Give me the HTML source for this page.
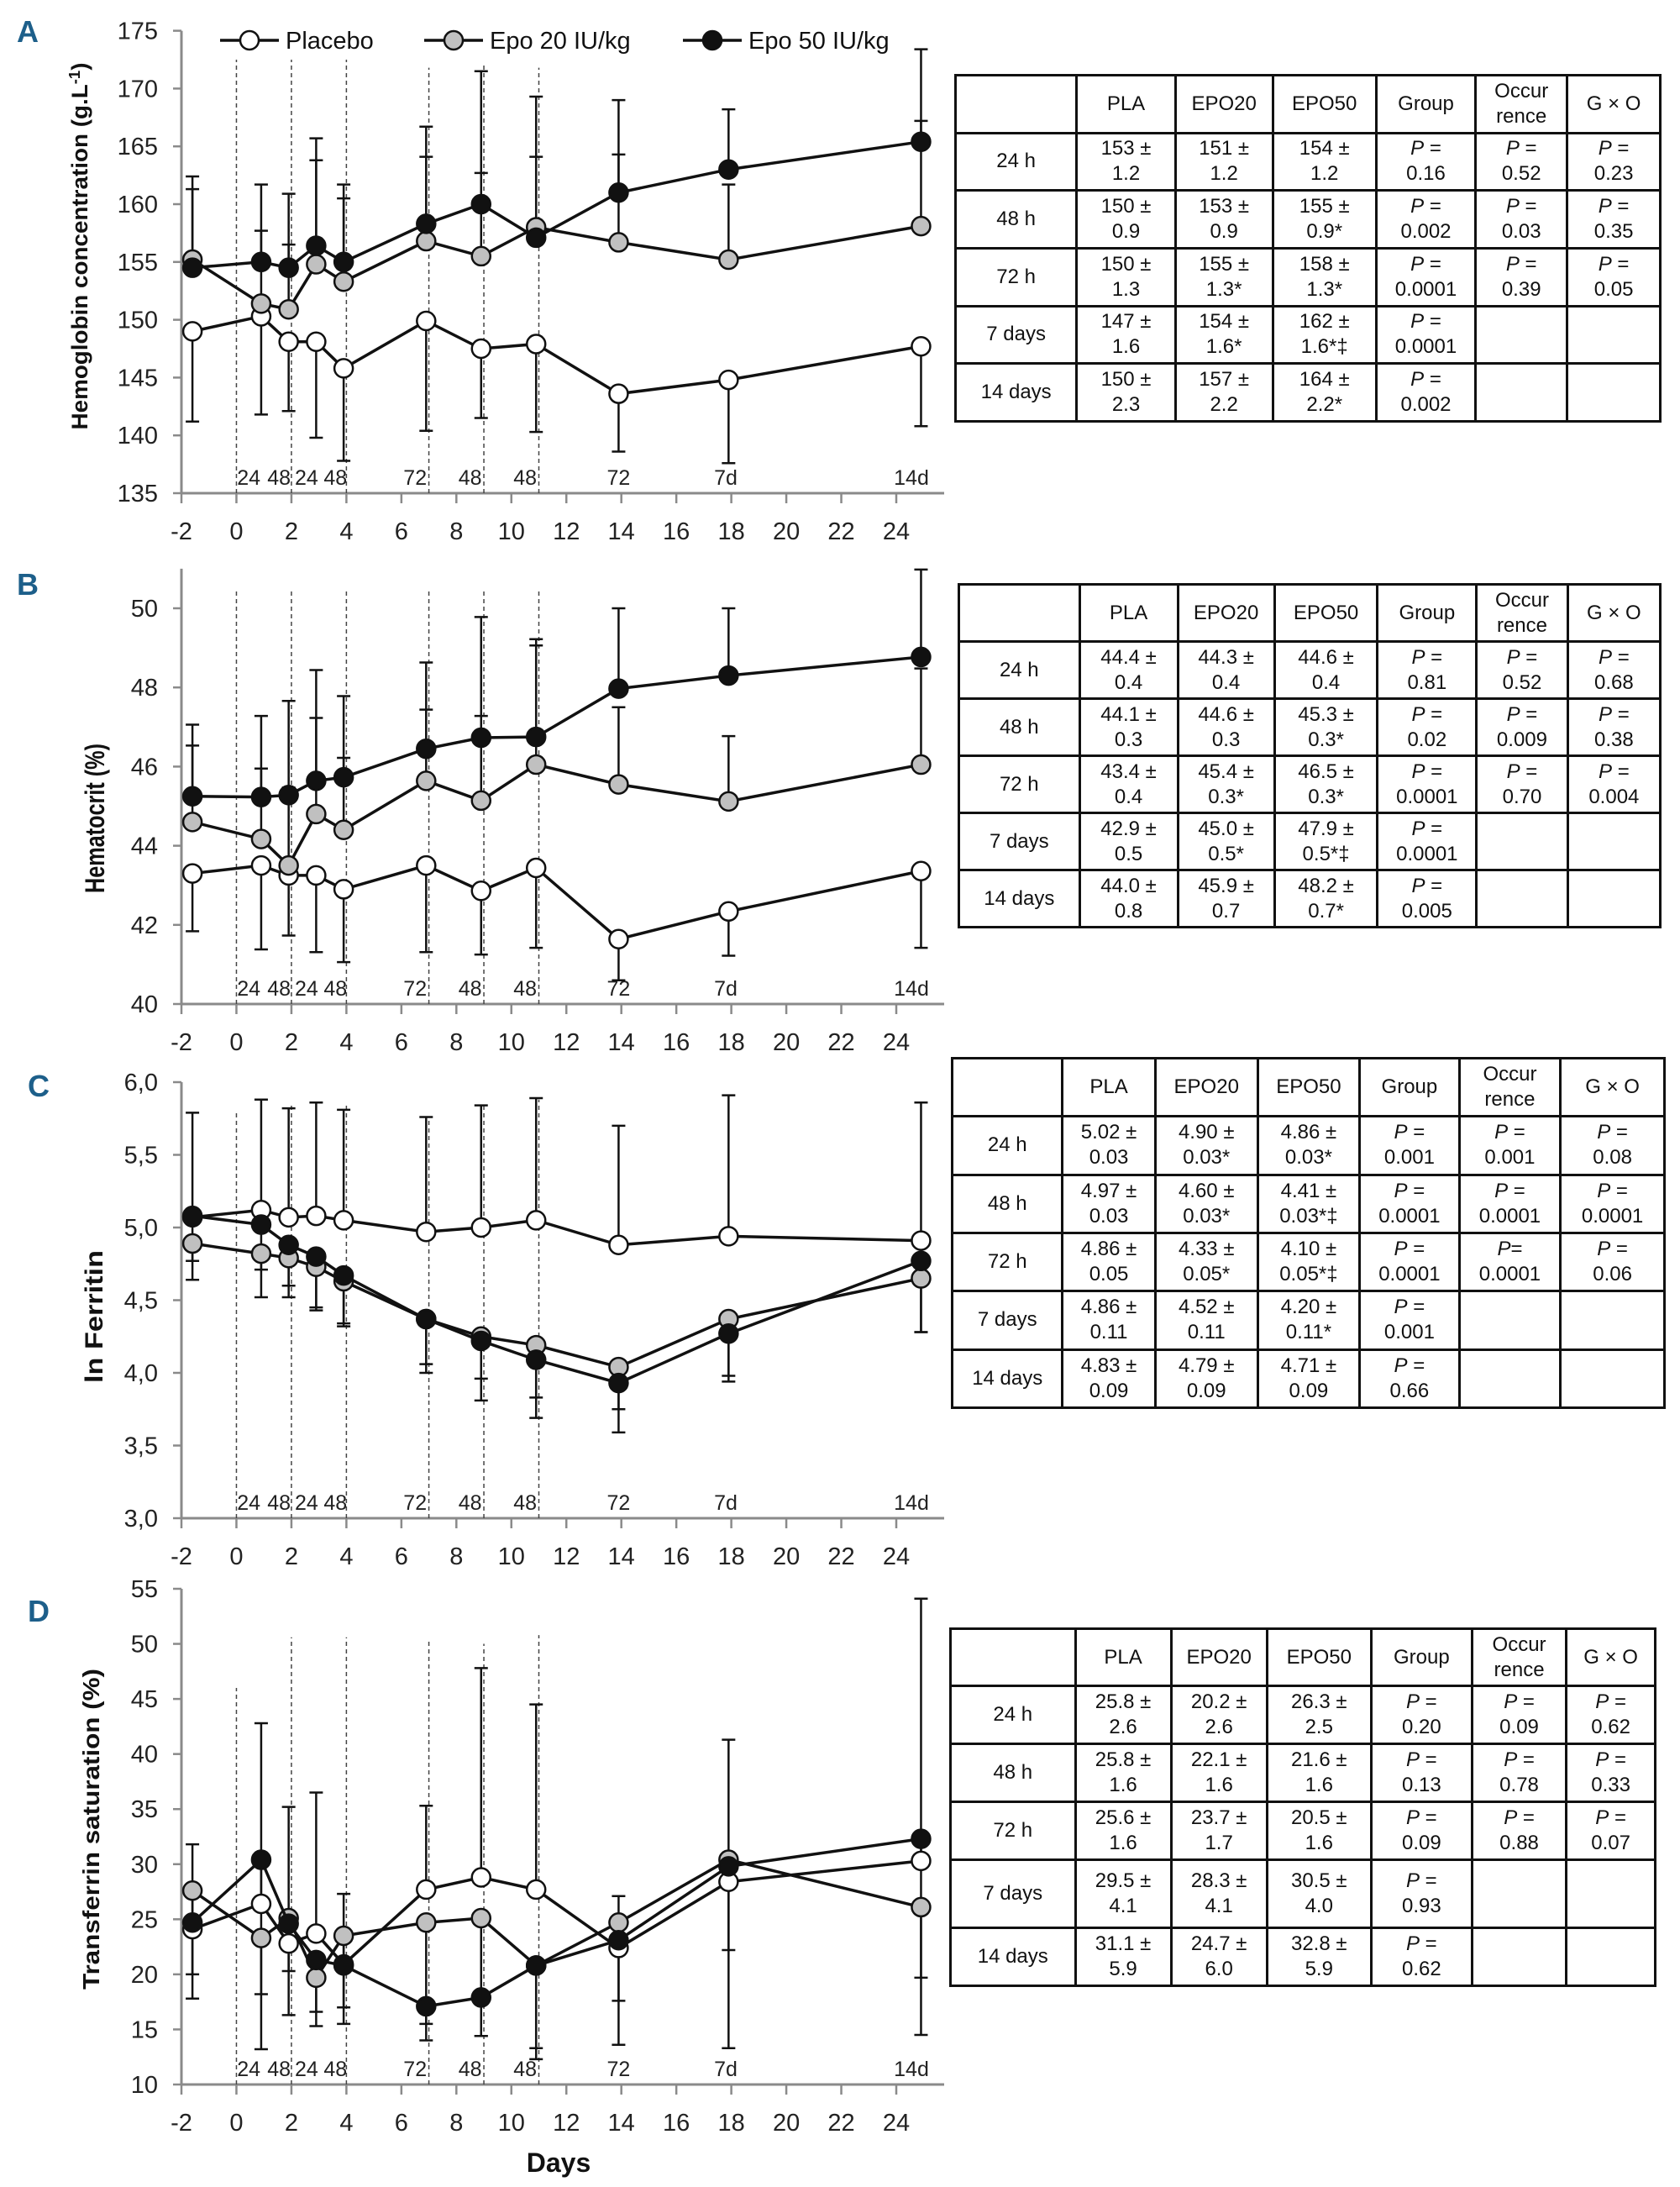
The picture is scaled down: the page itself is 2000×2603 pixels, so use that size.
<!DOCTYPE html>
<html><head><meta charset="utf-8">
<style>
body{margin:0;background:#fff;}
#root{position:relative;width:2000px;height:2603px;overflow:hidden;background:#fff;font-family:"Liberation Sans",sans-serif;}
svg{position:absolute;left:0;top:0;}
table.st{position:absolute;border-collapse:collapse;font-family:"Liberation Sans",sans-serif;font-size:24px;color:#111;table-layout:fixed;}
table.st td{border:3px solid #111;text-align:center;vertical-align:middle;line-height:30px;padding:0;}
table.st i{font-style:italic;}
</style></head>
<body>
<div id="root">
<svg id="chart" width="2000" height="2603"></svg>

<table class="st" style="left:1136px;top:88px;width:842px;height:415px;">
<colgroup><col style="width:17.2%"><col style="width:14%"><col style="width:13.8%"><col style="width:14.7%"><col style="width:14.1%"><col style="width:13%"><col style="width:13.2%"></colgroup>
<tr><td></td><td>PLA</td><td>EPO20</td><td>EPO50</td><td>Group</td><td>Occur<br>rence</td><td>G × O</td></tr>
<tr><td>24 h</td><td>153 ±<br>1.2</td><td>151 ±<br>1.2</td><td>154 ±<br>1.2</td><td><i>P</i> =<br>0.16</td><td><i>P</i> =<br>0.52</td><td><i>P</i> =<br>0.23</td></tr>
<tr><td>48 h</td><td>150 ±<br>0.9</td><td>153 ±<br>0.9</td><td>155 ±<br>0.9*</td><td><i>P</i> =<br>0.002</td><td><i>P</i> =<br>0.03</td><td><i>P</i> =<br>0.35</td></tr>
<tr><td>72 h</td><td>150 ±<br>1.3</td><td>155 ±<br>1.3*</td><td>158 ±<br>1.3*</td><td><i>P</i> =<br>0.0001</td><td><i>P</i> =<br>0.39</td><td><i>P</i> =<br>0.05</td></tr>
<tr><td>7 days</td><td>147 ±<br>1.6</td><td>154 ±<br>1.6*</td><td>162 ±<br>1.6*‡</td><td><i>P</i> =<br>0.0001</td><td></td><td></td></tr>
<tr><td>14 days</td><td>150 ±<br>2.3</td><td>157 ±<br>2.2</td><td>164 ±<br>2.2*</td><td><i>P</i> =<br>0.002</td><td></td><td></td></tr>
</table>

<table class="st" style="left:1140px;top:694px;width:838px;height:411px;">
<colgroup><col style="width:17.2%"><col style="width:14%"><col style="width:13.8%"><col style="width:14.7%"><col style="width:14.1%"><col style="width:13%"><col style="width:13.2%"></colgroup>
<tr><td></td><td>PLA</td><td>EPO20</td><td>EPO50</td><td>Group</td><td>Occur<br>rence</td><td>G × O</td></tr>
<tr><td>24 h</td><td>44.4 ±<br>0.4</td><td>44.3 ±<br>0.4</td><td>44.6 ±<br>0.4</td><td><i>P</i> =<br>0.81</td><td><i>P</i> =<br>0.52</td><td><i>P</i> =<br>0.68</td></tr>
<tr><td>48 h</td><td>44.1 ±<br>0.3</td><td>44.6 ±<br>0.3</td><td>45.3 ±<br>0.3*</td><td><i>P</i> =<br>0.02</td><td><i>P</i> =<br>0.009</td><td><i>P</i> =<br>0.38</td></tr>
<tr><td>72 h</td><td>43.4 ±<br>0.4</td><td>45.4 ±<br>0.3*</td><td>46.5 ±<br>0.3*</td><td><i>P</i> =<br>0.0001</td><td><i>P</i> =<br>0.70</td><td><i>P</i> =<br>0.004</td></tr>
<tr><td>7 days</td><td>42.9 ±<br>0.5</td><td>45.0 ±<br>0.5*</td><td>47.9 ±<br>0.5*‡</td><td><i>P</i> =<br>0.0001</td><td></td><td></td></tr>
<tr><td>14 days</td><td>44.0 ±<br>0.8</td><td>45.9 ±<br>0.7</td><td>48.2 ±<br>0.7*</td><td><i>P</i> =<br>0.005</td><td></td><td></td></tr>
</table>

<table class="st" style="left:1132px;top:1258px;width:851px;height:419px;">
<colgroup><col style="width:15.5%"><col style="width:13%"><col style="width:14.4%"><col style="width:14.3%"><col style="width:14%"><col style="width:14.2%"><col style="width:14.6%"></colgroup>
<tr><td></td><td>PLA</td><td>EPO20</td><td>EPO50</td><td>Group</td><td>Occur<br>rence</td><td>G × O</td></tr>
<tr><td>24 h</td><td>5.02 ±<br>0.03</td><td>4.90 ±<br>0.03*</td><td>4.86 ±<br>0.03*</td><td><i>P</i> =<br>0.001</td><td><i>P</i> =<br>0.001</td><td><i>P</i> =<br>0.08</td></tr>
<tr><td>48 h</td><td>4.97 ±<br>0.03</td><td>4.60 ±<br>0.03*</td><td>4.41 ±<br>0.03*‡</td><td><i>P</i> =<br>0.0001</td><td><i>P</i> =<br>0.0001</td><td><i>P</i> =<br>0.0001</td></tr>
<tr><td>72 h</td><td>4.86 ±<br>0.05</td><td>4.33 ±<br>0.05*</td><td>4.10 ±<br>0.05*‡</td><td><i>P</i> =<br>0.0001</td><td><i>P</i>=<br>0.0001</td><td><i>P</i> =<br>0.06</td></tr>
<tr><td>7 days</td><td>4.86 ±<br>0.11</td><td>4.52 ±<br>0.11</td><td>4.20 ±<br>0.11*</td><td><i>P</i> =<br>0.001</td><td></td><td></td></tr>
<tr><td>14 days</td><td>4.83 ±<br>0.09</td><td>4.79 ±<br>0.09</td><td>4.71 ±<br>0.09</td><td><i>P</i> =<br>0.66</td><td></td><td></td></tr>
</table>

<table class="st" style="left:1130px;top:1937px;width:842px;height:425px;">
<colgroup><col style="width:17.7%"><col style="width:13.6%"><col style="width:13.6%"><col style="width:14.8%"><col style="width:14.3%"><col style="width:13.4%"><col style="width:12.6%"></colgroup>
<tr style="height:68px"><td></td><td>PLA</td><td>EPO20</td><td>EPO50</td><td>Group</td><td>Occur<br>rence</td><td>G × O</td></tr>
<tr style="height:69px"><td>24 h</td><td>25.8 ±<br>2.6</td><td>20.2 ±<br>2.6</td><td>26.3 ±<br>2.5</td><td><i>P</i> =<br>0.20</td><td><i>P</i> =<br>0.09</td><td><i>P</i> =<br>0.62</td></tr>
<tr style="height:69px"><td>48 h</td><td>25.8 ±<br>1.6</td><td>22.1 ±<br>1.6</td><td>21.6 ±<br>1.6</td><td><i>P</i> =<br>0.13</td><td><i>P</i> =<br>0.78</td><td><i>P</i> =<br>0.33</td></tr>
<tr style="height:69px"><td>72 h</td><td>25.6 ±<br>1.6</td><td>23.7 ±<br>1.7</td><td>20.5 ±<br>1.6</td><td><i>P</i> =<br>0.09</td><td><i>P</i> =<br>0.88</td><td><i>P</i> =<br>0.07</td></tr>
<tr style="height:81px"><td>7 days</td><td>29.5 ±<br>4.1</td><td>28.3 ±<br>4.1</td><td>30.5 ±<br>4.0</td><td><i>P</i> =<br>0.93</td><td></td><td></td></tr>
<tr style="height:69px"><td>14 days</td><td>31.1 ±<br>5.9</td><td>24.7 ±<br>6.0</td><td>32.8 ±<br>5.9</td><td><i>P</i> =<br>0.62</td><td></td><td></td></tr>
</table>
</div>

<script>
// shared x positions (days) of the measurement points
const days = [-1.6, 0.9, 1.9, 2.9, 3.9, 6.9, 8.9, 10.9, 13.9, 17.9, 24.9];
const xTicks = [-2, 0, 2, 4, 6, 8, 10, 12, 14, 16, 18, 20, 22, 24];
const dashDays = [0, 2, 4, 7, 9, 11];
const timeLabels = ["24", "48", "24", "48", "72", "48", "48", "72", "7d", "14d"];
const timeLabelDays = [0.45, 1.55, 2.55, 3.6, 6.5, 8.5, 10.5, 13.9, 17.8, 24.55];

// Panel A - hemoglobin
const aPla = [149.0, 150.3, 148.1, 148.1, 145.8, 149.9, 147.5, 147.9, 143.6, 144.8, 147.7];
const aE20 = [155.2, 151.4, 150.9, 154.8, 153.3, 156.8, 155.5, 158.0, 156.7, 155.2, 158.1];
const aE50 = [154.5, 155.0, 154.5, 156.4, 155.0, 158.3, 160.0, 157.1, 161.0, 163.0, 165.4];
const aPlaErr = [141.2, 141.8, 142.1, 139.8, 137.8, 140.4, 141.5, 140.3, 138.6, 137.6, 140.8];
const aE20Err = [161.3, 157.7, 156.5, 163.8, 160.5, 164.1, 162.7, 164.1, 164.3, 161.7, 167.2];
const aE50Err = [162.4, 161.7, 160.9, 165.7, 161.7, 166.7, 171.5, 169.3, 169.0, 168.2, 173.4];
const aYTicks = [135, 140, 145, 150, 155, 160, 165, 170, 175];
const aDashTop = [172.5, 172.5, 172.5, 171.8, 172.0, 171.8];

// Panel B - hematocrit
const bPla = [43.3, 43.5, 43.25, 43.25, 42.9, 43.5, 42.86, 43.44, 41.64, 42.34, 43.36];
const bE20 = [44.6, 44.17, 43.5, 44.8, 44.4, 45.64, 45.14, 46.05, 45.55, 45.12, 46.05];
const bE50 = [45.25, 45.23, 45.28, 45.64, 45.73, 46.45, 46.73, 46.75, 47.97, 48.3, 48.77];
const bPlaErr = [41.84, 41.38, 41.73, 41.31, 41.06, 41.31, 41.25, 41.42, 40.6, 41.22, 41.42];
const bE20Err = [46.53, 45.95, 45.47, 47.23, 46.22, 47.44, 47.28, 49.06, 47.5, 46.77, 48.48];
const bE50Err = [47.06, 47.28, 47.66, 48.44, 47.78, 48.63, 49.78, 49.22, 50.0, 50.0, 50.98];
const bYTicks = [40, 42, 44, 46, 48, 50];
const bDashTop = [50.5, 50.5, 50.5, 50.5, 50.5, 50.5];

// Panel C - ln ferritin
const cPla = [5.07, 5.12, 5.07, 5.08, 5.05, 4.97, 5.0, 5.05, 4.88, 4.94, 4.91];
const cE20 = [4.89, 4.82, 4.79, 4.73, 4.63, 4.37, 4.25, 4.19, 4.04, 4.37, 4.65];
const cE50 = [5.08, 5.02, 4.88, 4.80, 4.67, 4.37, 4.22, 4.09, 3.93, 4.27, 4.77];
const cPlaErr = [5.79, 5.88, 5.82, 5.86, 5.81, 5.76, 5.84, 5.89, 5.70, 5.91, 5.86];
const cE20Err = [4.77, 4.71, 4.6, 4.45, 4.34, 4.06, 3.96, 3.83, 3.75, 3.98, 4.28];
const cE50Err = [4.64, 4.52, 4.52, 4.43, 4.32, 4.0, 3.81, 3.69, 3.59, 3.94, 4.28];
const cYTicks = [3.0, 3.5, 4.0, 4.5, 5.0, 5.5, 6.0];
const cDashTop = [5.8, 5.85, 5.85, 5.75, 5.85, 5.88];

// Panel D - transferrin saturation
const dPla = [24.1, 26.4, 22.8, 23.7, 20.9, 27.7, 28.8, 27.7, 22.4, 28.4, 30.3];
const dE20 = [27.6, 23.3, 25.1, 19.7, 23.5, 24.7, 25.1, 20.8, 24.7, 30.4, 26.1];
const dE50 = [24.7, 30.4, 24.6, 21.3, 20.8, 17.1, 17.9, 20.8, 23.1, 29.8, 32.3];
const dPlaErr = [31.8, 42.8, 35.2, 36.5, 27.3, 35.3, 47.8, 44.5, 27.1, 41.3, 54.1];
const dE20Err = [20.0, 18.2, 20.3, 16.6, 17.0, 15.5, 14.4, 13.3, 17.6, 22.2, 19.7];
const dE50Err = [17.8, 13.2, 16.3, 15.3, 15.5, 14.0, 14.4, 12.3, 13.6, 13.3, 14.5];
const dYTicks = [10, 15, 20, 25, 30, 35, 40, 45, 50, 55];
const dDashTop = [46, 50.6, 50.6, 50.5, 50, 50.8];

const NS = "http://www.w3.org/2000/svg";
const svg = document.getElementById("chart");
const X0 = 216, X1 = 1067;
function xs(d){ return X0 + (d + 2) * (X1 - X0) / 26; }
function mk(tag, attrs, parent){
  const e = document.createElementNS(NS, tag);
  for (const k in attrs) e.setAttribute(k, attrs[k]);
  (parent || svg).appendChild(e);
  return e;
}

function drawPanel(p){
  const g = mk("g", {});
  
  
  const ys = v => p.py0 + (v - p.v0) * (p.py1 - p.py0) / (p.v1 - p.v0);
  const yb = p.py0;
  const ya = mk("line", {x1:X0, x2:X0, y1:yb, y2:ys(p.vTop), stroke:"#8a8a8a", "stroke-width":3}, g);
  
  
  const xa = mk("line", {x1:X0, x2:1124, y1:yb, y2:yb, stroke:"#8a8a8a", "stroke-width":3}, g);
  
  
  p.yTicks.forEach(v => {
    const y = ys(v);
    mk("line", {x1:X0-10, x2:X0, y1:y, y2:y, stroke:"#8a8a8a", "stroke-width":2.5}, g);
    const t = mk("text", {x:X0-28, y:y+10, "text-anchor":"end", "font-size":29, fill:"#222"}, g);
    t.textContent = p.fmt(v);
    
    
  });
  xTicks.forEach(d => {
    const x = xs(d);
    mk("line", {x1:x, x2:x, y1:yb, y2:yb+12, stroke:"#8a8a8a", "stroke-width":2.5}, g);
    const t = mk("text", {x:x, y:yb+55, "text-anchor":"middle", "font-size":29, fill:"#222"}, g);
    t.textContent = String(d);
    
    
  });
  dashDays.forEach((d, i) => {
    const l = mk("line", {x1:xs(d), x2:xs(d), y1:yb, y2:ys(p.dash[i]), stroke:"#444", "stroke-width":1.5, "stroke-dasharray":"5,4"}, g);
    
    
  });
  timeLabels.forEach((s, i) => {
    const t = mk("text", {x:xs(timeLabelDays[i]), y:yb-10, "text-anchor":"middle", "font-size":25, fill:"#222"}, g);
    t.textContent = s;
    
    
  });
  const tt = mk("text", {x:0, y:0, transform:`translate(${p.tx},${p.tcy}) rotate(-90)`, "text-anchor":"middle", "font-size":p.tfs, "font-weight":"bold", fill:"#111", textLength:p.tlen, lengthAdjust:"spacingAndGlyphs"}, g);
  tt.innerHTML = p.title;
  
  
  const lt = mk("text", {x:p.lx, y:p.ly, "font-size":36, "font-weight":"bold", fill:"#1d5f8a"}, g);
  lt.textContent = p.id;
  
  
  const series = [[p.pla, p.plaErr, "#fff", "placebo"], [p.e20, p.e20Err, "#c0c0c0", "epo20"], [p.e50, p.e50Err, "#111", "epo50"]];
  series.forEach(s => {
    s[0].forEach((v, i) => {
      const x = xs(days[i]);
      const eb = mk("g", {}, g);
      
      
      mk("line", {x1:x, x2:x, y1:ys(v), y2:ys(s[1][i]), stroke:"#111", "stroke-width":2.5}, eb);
      mk("line", {x1:x-8, x2:x+8, y1:ys(s[1][i]), y2:ys(s[1][i]), stroke:"#111", "stroke-width":2.5}, eb);
    });
  });
  series.forEach(s => {
    const pts = s[0].map((v, i) => xs(days[i]) + "," + ys(v)).join(" ");
    const pl = mk("polyline", {points:pts, fill:"none", stroke:"#111", "stroke-width":3.5}, g);
    
    
    s[0].forEach((v, i) => {
      const c = mk("circle", {cx:xs(days[i]), cy:ys(v), r:11, fill:s[2], stroke:"#111", "stroke-width":2.5}, g);
      
      
    });
  });
}

const comma = v => v.toFixed(1).replace(".", ",");
const plain = v => String(v);
drawPanel({id:"A", py0:587, py1:36.6, v0:135, v1:175, vTop:175, yTicks:aYTicks, fmt:plain, dash:aDashTop,
  pla:aPla, e20:aE20, e50:aE50, plaErr:aPlaErr, e20Err:aE20Err, e50Err:aE50Err,
  title:'Hemoglobin concentration (g.L<tspan dy="-9" font-size="18">-1</tspan><tspan dy="9">)</tspan>', tfs:27, tx:104, tcy:293, tlen:437, lx:20, ly:50});
drawPanel({id:"B", py0:1195, py1:724, v0:40, v1:50, vTop:51, yTicks:bYTicks, fmt:plain, dash:bDashTop,
  pla:bPla, e20:bE20, e50:bE50, plaErr:bPlaErr, e20Err:bE20Err, e50Err:bE50Err,
  title:'Hematocrit (%)', tfs:32, tx:124, tcy:974, tlen:178, lx:20, ly:708});
drawPanel({id:"C", py0:1807, py1:1288, v0:3, v1:6, vTop:6, yTicks:cYTicks, fmt:comma, dash:cDashTop,
  pla:cPla, e20:cE20, e50:cE50, plaErr:cPlaErr, e20Err:cE20Err, e50Err:cE50Err,
  title:'ln Ferritin', tfs:30, tx:122, tcy:1567, tlen:158, lx:33, ly:1305});
drawPanel({id:"D", py0:2481, py1:1891, v0:10, v1:55, vTop:55, yTicks:dYTicks, fmt:plain, dash:dDashTop,
  pla:dPla, e20:dE20, e50:dE50, plaErr:dPlaErr, e20Err:dE20Err, e50Err:dE50Err,
  title:'Transferrin saturation (%)', tfs:28, tx:118, tcy:2177, tlen:382, lx:33, ly:1930});

const days_t = mk("text", {x:665, y:2585, "text-anchor":"middle", "font-size":32, "font-weight":"bold", fill:"#111"});
days_t.textContent = "Days";



const legNames = ["Placebo", "Epo 20 IU/kg", "Epo 50 IU/kg"];
const legFill = ["#fff", "#c0c0c0", "#111"];
const legX = [262, 505, 813];
legNames.forEach((n, i) => {
  const lg = mk("g", {});
  
  
  mk("line", {x1:legX[i], x2:legX[i]+70, y1:48, y2:48, stroke:"#111", "stroke-width":3.5}, lg);
  mk("circle", {cx:legX[i]+35, cy:48, r:11, fill:legFill[i], stroke:"#111", "stroke-width":2.5}, lg);
  const t = mk("text", {x:legX[i]+78, y:58, "font-size":29, fill:"#111"}, lg);
  t.textContent = n;
});
</script>
</body></html>
